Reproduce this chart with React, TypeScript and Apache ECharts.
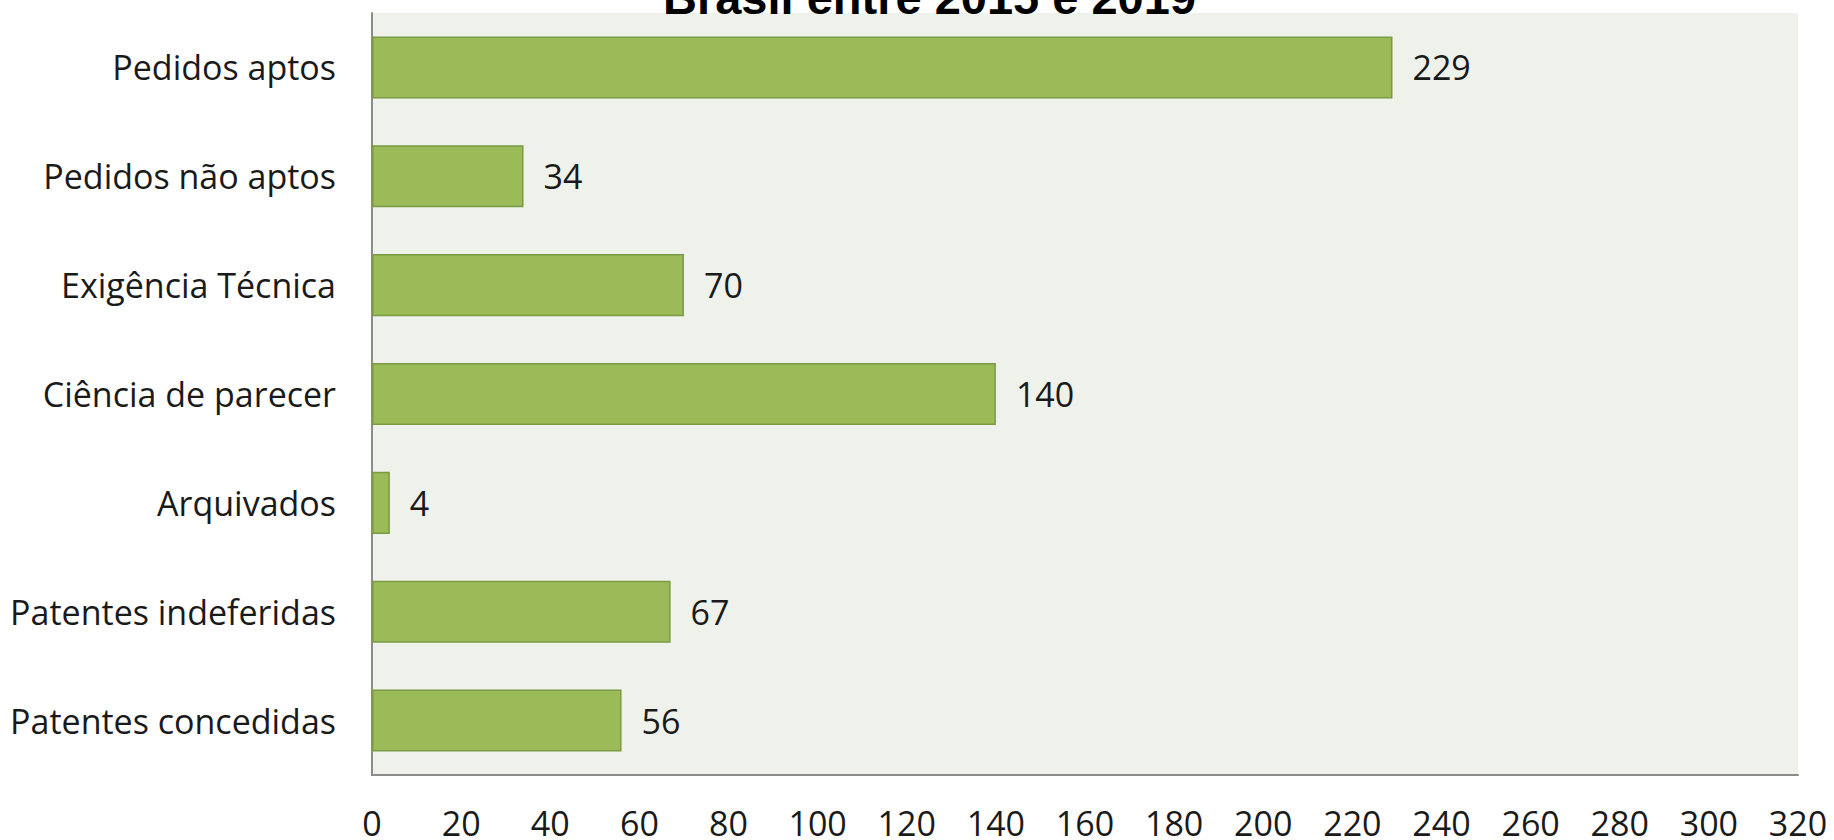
import React, { useEffect, useRef } from "react";
import * as echarts from "echarts";

const titleText = "Brasil entre 2015 e 2019";
const categories = [
  "Pedidos aptos",
  "Pedidos não aptos",
  "Exigência Técnica",
  "Ciência de parecer",
  "Arquivados",
  "Patentes indeferidas",
  "Patentes concedidas",
];
const values = [229, 34, 70, 140, 4, 67, 56];
const axisMin = 0;
const axisMax = 320;
const axisStep = 20;

const FONT = "'Open Sans', 'Noto Sans', sans-serif";

export default function App() {
  const ref = useRef<HTMLDivElement>(null);
  useEffect(() => {
    if (!ref.current) return;
    const chart = echarts.init(ref.current, null, { renderer: "svg" });
    chart.setOption({
      animation: false,
      backgroundColor: "#ffffff",
      title: {
        text: titleText,
        left: 663,
        top: -26,
        padding: 0,
        textStyle: {
          fontFamily: "'Liberation Sans', Arial, sans-serif",
          fontWeight: "bold",
          fontSize: 47,
          color: "#000000",
        },
      },
      grid: {
        left: 372,
        right: 36,
        top: 13,
        bottom: 65,
        show: true,
        backgroundColor: "#EFF2EA",
        borderWidth: 0,
      },
      xAxis: {
        type: "value",
        min: axisMin,
        max: axisMax,
        interval: axisStep,
        axisLine: { show: true, lineStyle: { color: "#8c8c8c", width: 2 } },
        axisTick: { show: false },
        splitLine: { show: false },
        axisLabel: {
          margin: 33,
          lineHeight: 30,
          fontFamily: FONT,
          fontSize: 34,
          color: "#1a1a1a",
        },
      },
      yAxis: {
        type: "category",
        data: categories,
        inverse: true,
        axisLine: { show: true, lineStyle: { color: "#8c8c8c", width: 2 } },
        axisTick: { show: false },
        axisLabel: {
          margin: 36,
          fontFamily: FONT,
          fontSize: 34,
          color: "#1a1a1a",
        },
      },
      series: [
        {
          type: "bar",
          data: values,
          barCategoryGap: "43%",
          itemStyle: {
            color: "#9BBB59",
            borderColor: "#7A9A44",
            borderWidth: 1.5,
          },
          label: {
            show: true,
            position: "right",
            distance: 20,
            fontFamily: FONT,
            fontSize: 34,
            color: "#1a1a1a",
          },
        },
      ],
    });
    return () => chart.dispose();
  }, []);
  return (
    <div
      ref={ref}
      style={{ position: "fixed", left: 0, top: 0, width: 1834, height: 840 }}
    />
  );
}
